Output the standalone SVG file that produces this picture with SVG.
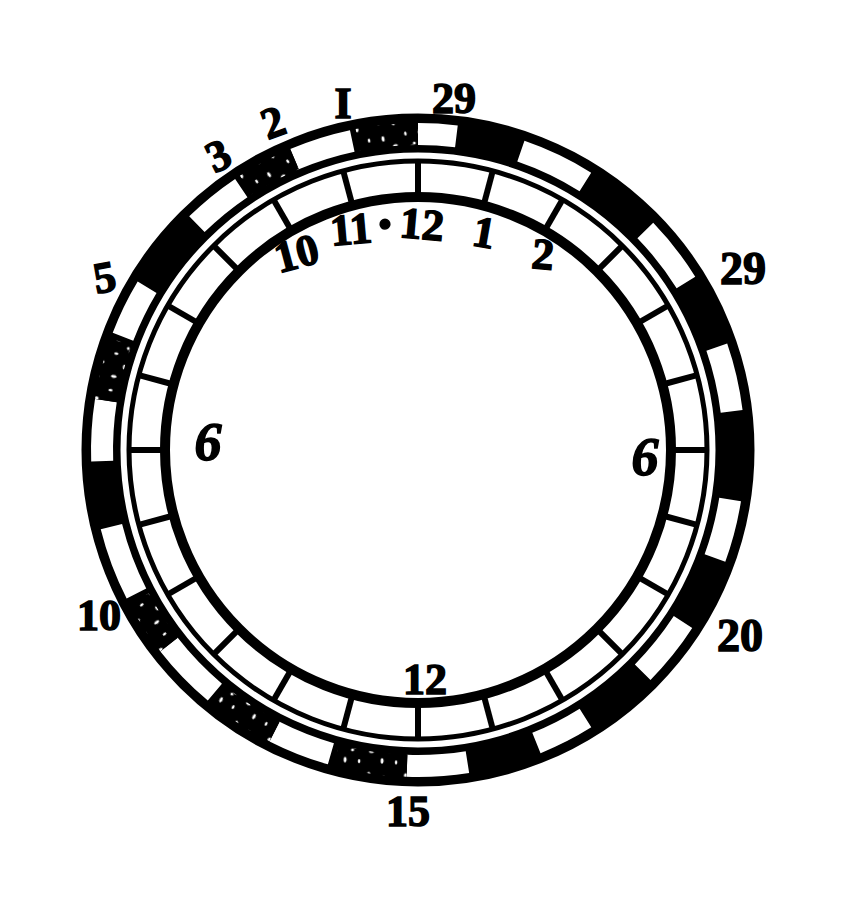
<svg xmlns="http://www.w3.org/2000/svg" width="850" height="912" viewBox="0 0 850 912">
<defs>
<pattern id="speck" patternUnits="userSpaceOnUse" width="41" height="37">
<rect width="41" height="37" fill="#000"/>
<ellipse cx="6" cy="7" rx="2.6" ry="1.8" fill="#fff"/>
<circle cx="10" cy="10" r="1.2" fill="#fff"/>
<ellipse cx="24" cy="5" rx="1.5" ry="2.4" fill="#fff"/>
<circle cx="19" cy="21" r="2.6" fill="#fff"/>
<circle cx="23" cy="24" r="1.4" fill="#fff"/>
<ellipse cx="34" cy="17" rx="2" ry="1.3" fill="#fff"/>
<circle cx="8" cy="29" r="1.6" fill="#fff"/>
<ellipse cx="33" cy="31" rx="2.8" ry="1.6" fill="#fff"/>
</pattern>
</defs>
<style>
.band{fill:none;stroke:#000;stroke-width:39}
.wc{fill:none;stroke:#fff;stroke-width:22}
.sc{fill:none;stroke:url(#speck);stroke-width:22}
.ring{fill:none;stroke:#000}
.div{stroke:#000;stroke-width:6}
.lb{font-family:"Liberation Serif","DejaVu Serif",serif;font-weight:bold;font-size:44px;fill:#000;stroke:#000;stroke-width:1.5;text-anchor:middle}
.it{font-style:italic;font-size:54px}
</style>
<rect width="850" height="912" fill="#fff"/>
<g id="outer-ring">
<circle class="band" cx="418" cy="450" r="317"/>
<g id="white-cells">
<circle class="wc" cx="418" cy="450" r="316" pathLength="360" stroke-dasharray="7 400" transform="rotate(-90 418 450)"/>
<circle class="wc" cx="418" cy="450" r="316" pathLength="360" stroke-dasharray="13 400" transform="rotate(-71 418 450)"/>
<circle class="wc" cx="418" cy="450" r="316" pathLength="360" stroke-dasharray="12 400" transform="rotate(-44 418 450)"/>
<circle class="wc" cx="418" cy="450" r="316" pathLength="360" stroke-dasharray="12 400" transform="rotate(-19 418 450)"/>
<circle class="wc" cx="418" cy="450" r="316" pathLength="360" stroke-dasharray="11 400" transform="rotate(9 418 450)"/>
<circle class="wc" cx="418" cy="450" r="316" pathLength="360" stroke-dasharray="11.7 400" transform="rotate(33 418 450)"/>
<circle class="wc" cx="418" cy="450" r="316" pathLength="360" stroke-dasharray="10 400" transform="rotate(58 418 450)"/>
<circle class="wc" cx="418" cy="450" r="316" pathLength="360" stroke-dasharray="11 400" transform="rotate(81 418 450)"/>
<circle class="wc" cx="418" cy="450" r="316" pathLength="360" stroke-dasharray="11 400" transform="rotate(106 418 450)"/>
<circle class="wc" cx="418" cy="450" r="316" pathLength="360" stroke-dasharray="12 400" transform="rotate(130 418 450)"/>
<circle class="wc" cx="418" cy="450" r="316" pathLength="360" stroke-dasharray="13 400" transform="rotate(153 418 450)"/>
<circle class="wc" cx="418" cy="450" r="316" pathLength="360" stroke-dasharray="11 400" transform="rotate(178 418 450)"/>
<circle class="wc" cx="418" cy="450" r="316" pathLength="360" stroke-dasharray="10 400" transform="rotate(201 418 450)"/>
<circle class="wc" cx="418" cy="450" r="316" pathLength="360" stroke-dasharray="10.4 400" transform="rotate(225.6 418 450)"/>
<circle class="wc" cx="418" cy="450" r="316" pathLength="360" stroke-dasharray="11 400" transform="rotate(247 418 450)"/>
</g>
<g id="speckled-cells">
<circle class="sc" cx="418" cy="450" r="316" pathLength="360" stroke-dasharray="11 400" transform="rotate(259 418 450)"/>
<circle class="sc" cx="418" cy="450" r="316" pathLength="360" stroke-dasharray="10 400" transform="rotate(237 418 450)"/>
<circle class="sc" cx="418" cy="450" r="316" pathLength="360" stroke-dasharray="11 400" transform="rotate(189 418 450)"/>
<circle class="sc" cx="418" cy="450" r="316" pathLength="360" stroke-dasharray="10 400" transform="rotate(142 418 450)"/>
<circle class="sc" cx="418" cy="450" r="316" pathLength="360" stroke-dasharray="12 400" transform="rotate(117 418 450)"/>
<circle class="sc" cx="418" cy="450" r="316" pathLength="360" stroke-dasharray="13 400" transform="rotate(92 418 450)"/>
</g>
</g>
<g id="inner-ring">
<circle class="ring" cx="418" cy="450" r="289" stroke-width="5"/>
<circle class="ring" cx="418" cy="450" r="253" stroke-width="10"/>
<g id="dividers">
<line class="div" x1="418" y1="162" x2="418" y2="196" transform="rotate(0 418 450)"/>
<line class="div" x1="418" y1="162" x2="418" y2="196" transform="rotate(15 418 450)"/>
<line class="div" x1="418" y1="162" x2="418" y2="196" transform="rotate(30 418 450)"/>
<line class="div" x1="418" y1="162" x2="418" y2="196" transform="rotate(45 418 450)"/>
<line class="div" x1="418" y1="162" x2="418" y2="196" transform="rotate(60 418 450)"/>
<line class="div" x1="418" y1="162" x2="418" y2="196" transform="rotate(75 418 450)"/>
<line class="div" x1="418" y1="162" x2="418" y2="196" transform="rotate(90 418 450)"/>
<line class="div" x1="418" y1="162" x2="418" y2="196" transform="rotate(105 418 450)"/>
<line class="div" x1="418" y1="162" x2="418" y2="196" transform="rotate(120 418 450)"/>
<line class="div" x1="418" y1="162" x2="418" y2="196" transform="rotate(135 418 450)"/>
<line class="div" x1="418" y1="162" x2="418" y2="196" transform="rotate(150 418 450)"/>
<line class="div" x1="418" y1="162" x2="418" y2="196" transform="rotate(165 418 450)"/>
<line class="div" x1="418" y1="162" x2="418" y2="196" transform="rotate(180 418 450)"/>
<line class="div" x1="418" y1="162" x2="418" y2="196" transform="rotate(195 418 450)"/>
<line class="div" x1="418" y1="162" x2="418" y2="196" transform="rotate(210 418 450)"/>
<line class="div" x1="418" y1="162" x2="418" y2="196" transform="rotate(225 418 450)"/>
<line class="div" x1="418" y1="162" x2="418" y2="196" transform="rotate(240 418 450)"/>
<line class="div" x1="418" y1="162" x2="418" y2="196" transform="rotate(255 418 450)"/>
<line class="div" x1="418" y1="162" x2="418" y2="196" transform="rotate(270 418 450)"/>
<line class="div" x1="418" y1="162" x2="418" y2="196" transform="rotate(285 418 450)"/>
<line class="div" x1="418" y1="162" x2="418" y2="196" transform="rotate(300 418 450)"/>
<line class="div" x1="418" y1="162" x2="418" y2="196" transform="rotate(315 418 450)"/>
<line class="div" x1="418" y1="162" x2="418" y2="196" transform="rotate(330 418 450)"/>
<line class="div" x1="418" y1="162" x2="418" y2="196" transform="rotate(345 418 450)"/>
</g>
</g>
<g id="outer-labels">
<text class="lb" x="343" y="118">I</text>
<text class="lb" x="454" y="113">29</text>
<text class="lb" x="274" y="137" transform="rotate(-20 274 125)">2</text>
<text class="lb" x="219" y="170" transform="rotate(-25 219 157)">3</text>
<text class="lb" x="105" y="292" transform="rotate(-10 105 280)">5</text>
<text class="lb" x="99" y="630">10</text>
<text class="lb" x="408" y="826">15</text>
<text class="lb" x="740" y="651" style="font-size:46px">20</text>
<text class="lb" x="743" y="284" style="font-size:46px">29</text>
</g>
<g id="inner-labels">
<text class="lb" x="297" y="268" transform="rotate(-15 297 255)">10</text>
<text class="lb" x="351" y="244" transform="rotate(-5 351 230)">11</text>
<text class="lb" x="385" y="244" style="font-size:60px">·</text>
<text class="lb" x="422" y="239" transform="rotate(5 422 225)">12</text>
<text class="lb" x="484" y="247" transform="rotate(10 484 233)">1</text>
<text class="lb" x="543" y="269" transform="rotate(5 543 255)">2</text>
<text class="lb it" x="208" y="460">6</text>
<text class="lb it" x="645" y="475">6</text>
<text class="lb" x="425" y="694">12</text>
</g>
</svg>
